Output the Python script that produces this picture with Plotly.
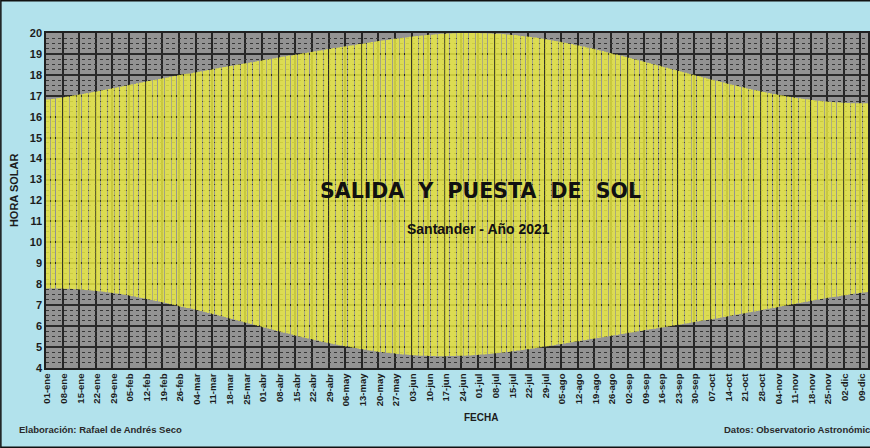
import plotly.graph_objects as go
import pandas as pd

MESES = ["ene", "feb", "mar", "abr", "may", "jun", "jul", "ago", "sep", "oct", "nov", "dic"]
# the source sheet uses a 366-day calendar (it contains 29-feb)
fechas = pd.date_range("2020-01-01", "2020-12-31", freq="D")

# Hora solar de salida del sol (h), Santander
salida = [
    7.80, 7.80, 7.80, 7.80, 7.80, 7.80, 7.80, 7.79, 7.79, 7.78, 7.78, 7.77, 7.76, 7.76, 7.75, 7.74, 7.73, 7.72, 7.71, 7.70, 7.69, 7.68, 7.66, 7.65, 7.64, 7.62, 7.61, 7.59, 7.58, 7.56, 7.55,
    7.53, 7.51, 7.49, 7.47, 7.45, 7.43, 7.41, 7.38, 7.36, 7.34, 7.32, 7.29, 7.27, 7.25, 7.22, 7.20, 7.18, 7.15, 7.13, 7.11, 7.08, 7.05, 7.02, 7.00, 6.97, 6.94, 6.91, 6.89, 6.87,
    6.86, 6.83, 6.80, 6.77, 6.75, 6.72, 6.69, 6.66, 6.63, 6.60, 6.57, 6.55, 6.52, 6.49, 6.46, 6.43, 6.40, 6.37, 6.34, 6.31, 6.28, 6.25, 6.22, 6.19, 6.16, 6.13, 6.10, 6.07, 6.04, 6.01, 5.98,
    5.95, 5.92, 5.89, 5.86, 5.83, 5.80, 5.77, 5.74, 5.71, 5.68, 5.66, 5.63, 5.60, 5.57, 5.54, 5.51, 5.49, 5.46, 5.43, 5.41, 5.38, 5.36, 5.33, 5.31, 5.28, 5.25, 5.23, 5.21, 5.18, 5.16,
    5.14, 5.11, 5.09, 5.07, 5.05, 5.03, 5.01, 4.99, 4.97, 4.95, 4.93, 4.91, 4.89, 4.87, 4.85, 4.84, 4.82, 4.80, 4.79, 4.77, 4.76, 4.74, 4.73, 4.72, 4.71, 4.70, 4.68, 4.67, 4.66, 4.65, 4.64,
    4.63, 4.62, 4.61, 4.61, 4.60, 4.59, 4.59, 4.58, 4.58, 4.57, 4.57, 4.57, 4.56, 4.56, 4.56, 4.56, 4.56, 4.57, 4.57, 4.57, 4.57, 4.58, 4.58, 4.59, 4.59, 4.60, 4.60, 4.61, 4.62, 4.62,
    4.63, 4.64, 4.65, 4.66, 4.67, 4.68, 4.69, 4.71, 4.72, 4.73, 4.74, 4.75, 4.77, 4.78, 4.80, 4.81, 4.83, 4.84, 4.86, 4.87, 4.89, 4.90, 4.92, 4.93, 4.95, 4.97, 4.99, 5.01, 5.03, 5.04, 5.06,
    5.08, 5.10, 5.12, 5.14, 5.15, 5.17, 5.19, 5.21, 5.23, 5.25, 5.27, 5.28, 5.30, 5.32, 5.34, 5.36, 5.38, 5.40, 5.41, 5.43, 5.45, 5.47, 5.49, 5.51, 5.53, 5.55, 5.57, 5.58, 5.60, 5.62, 5.64,
    5.66, 5.68, 5.69, 5.71, 5.73, 5.75, 5.77, 5.79, 5.81, 5.83, 5.85, 5.86, 5.88, 5.90, 5.92, 5.94, 5.95, 5.97, 5.99, 6.01, 6.03, 6.05, 6.06, 6.08, 6.10, 6.12, 6.14, 6.16, 6.18, 6.20,
    6.22, 6.24, 6.26, 6.28, 6.29, 6.31, 6.33, 6.35, 6.37, 6.39, 6.41, 6.43, 6.45, 6.47, 6.49, 6.52, 6.54, 6.56, 6.58, 6.60, 6.62, 6.64, 6.66, 6.68, 6.70, 6.72, 6.74, 6.77, 6.79, 6.81, 6.83,
    6.85, 6.87, 6.89, 6.91, 6.94, 6.96, 6.98, 7.00, 7.02, 7.04, 7.06, 7.09, 7.11, 7.13, 7.15, 7.17, 7.19, 7.21, 7.23, 7.25, 7.27, 7.29, 7.31, 7.33, 7.35, 7.37, 7.39, 7.40, 7.42, 7.44,
    7.46, 7.48, 7.49, 7.51, 7.53, 7.55, 7.56, 7.58, 7.59, 7.61, 7.62, 7.63, 7.65, 7.66, 7.67, 7.69, 7.70, 7.71, 7.72, 7.73, 7.74, 7.75, 7.76, 7.76, 7.77, 7.78, 7.78, 7.79, 7.79, 7.80, 7.80,
]

# Hora solar de puesta del sol (h)
puesta = [
    16.82, 16.83, 16.85, 16.86, 16.88, 16.90, 16.91, 16.93, 16.95, 16.97, 16.99, 17.01, 17.03, 17.05, 17.07, 17.09, 17.11, 17.13, 17.15, 17.17, 17.19, 17.21, 17.23, 17.26, 17.28, 17.30, 17.32, 17.34, 17.37, 17.39, 17.41,
    17.43, 17.46, 17.48, 17.50, 17.53, 17.55, 17.57, 17.60, 17.62, 17.64, 17.66, 17.69, 17.71, 17.73, 17.75, 17.77, 17.80, 17.82, 17.84, 17.86, 17.88, 17.91, 17.93, 17.95, 17.98, 18.00, 18.02, 18.04, 18.05,
    18.06, 18.08, 18.11, 18.13, 18.15, 18.17, 18.19, 18.21, 18.23, 18.25, 18.27, 18.30, 18.32, 18.34, 18.36, 18.38, 18.40, 18.42, 18.44, 18.46, 18.48, 18.50, 18.52, 18.54, 18.56, 18.58, 18.60, 18.62, 18.64, 18.66, 18.68,
    18.70, 18.72, 18.74, 18.76, 18.78, 18.80, 18.82, 18.84, 18.86, 18.88, 18.90, 18.92, 18.93, 18.95, 18.97, 18.99, 19.01, 19.03, 19.05, 19.07, 19.09, 19.11, 19.13, 19.15, 19.16, 19.18, 19.20, 19.22, 19.24, 19.26,
    19.28, 19.29, 19.31, 19.33, 19.35, 19.37, 19.39, 19.40, 19.42, 19.44, 19.46, 19.48, 19.49, 19.51, 19.53, 19.55, 19.57, 19.58, 19.60, 19.62, 19.64, 19.65, 19.67, 19.68, 19.70, 19.72, 19.73, 19.74, 19.76, 19.77, 19.79,
    19.80, 19.82, 19.83, 19.85, 19.86, 19.87, 19.88, 19.89, 19.90, 19.92, 19.92, 19.93, 19.94, 19.95, 19.96, 19.96, 19.97, 19.98, 19.98, 19.99, 19.99, 20.00, 20.00, 20.00, 20.00, 20.00, 20.00, 20.00, 20.00, 20.00,
    20.00, 19.99, 19.99, 19.99, 19.98, 19.98, 19.97, 19.97, 19.96, 19.96, 19.95, 19.94, 19.93, 19.92, 19.91, 19.90, 19.89, 19.87, 19.86, 19.85, 19.83, 19.82, 19.81, 19.79, 19.78, 19.76, 19.74, 19.72, 19.70, 19.68, 19.66,
    19.64, 19.62, 19.60, 19.58, 19.56, 19.53, 19.51, 19.49, 19.47, 19.44, 19.42, 19.40, 19.37, 19.35, 19.32, 19.30, 19.27, 19.25, 19.22, 19.19, 19.16, 19.14, 19.11, 19.08, 19.05, 19.02, 18.99, 18.97, 18.94, 18.91, 18.88,
    18.85, 18.82, 18.79, 18.76, 18.73, 18.70, 18.67, 18.64, 18.61, 18.58, 18.55, 18.52, 18.49, 18.46, 18.43, 18.40, 18.37, 18.34, 18.31, 18.28, 18.25, 18.22, 18.19, 18.16, 18.13, 18.10, 18.07, 18.04, 18.01, 17.98,
    17.95, 17.92, 17.89, 17.86, 17.83, 17.80, 17.77, 17.75, 17.72, 17.69, 17.66, 17.63, 17.60, 17.57, 17.54, 17.52, 17.49, 17.46, 17.43, 17.41, 17.38, 17.35, 17.33, 17.30, 17.28, 17.25, 17.23, 17.20, 17.18, 17.16, 17.13,
    17.11, 17.09, 17.07, 17.05, 17.03, 17.01, 16.99, 16.97, 16.95, 16.93, 16.91, 16.89, 16.88, 16.86, 16.85, 16.83, 16.82, 16.80, 16.79, 16.77, 16.76, 16.75, 16.74, 16.73, 16.72, 16.71, 16.70, 16.69, 16.69, 16.68,
    16.67, 16.67, 16.66, 16.66, 16.65, 16.65, 16.65, 16.65, 16.65, 16.65, 16.65, 16.65, 16.65, 16.66, 16.66, 16.66, 16.66, 16.67, 16.68, 16.68, 16.69, 16.70, 16.71, 16.72, 16.73, 16.74, 16.74, 16.75, 16.77, 16.78, 16.80,
]

n = min(len(fechas), len(salida), len(puesta))
dias = list(range(n))
duracion = [puesta[i] - salida[i] for i in range(n)]

# Weekly tick labels
tick_idx = list(range(0, n, 7))
tick_txt = [f"{fechas[i].day:02d}-{MESES[fechas[i].month - 1]}" for i in tick_idx]
grid_idx = [i - 0.5 for i in tick_idx]

W, H = 870, 448
ML, MT, MB, MR = 46, 33, 80, 0
PW, PH = W - ML - MR, H - MT - MB
px_per_day = 2.38
x_lo = -0.5
x_hi = x_lo + PW / px_per_day


def fx(px):
    return (px - ML) / PW


def fy(py):
    return (H - MB - py) / PH


FONT = "Liberation Sans, Arial, sans-serif"
TXT = "#1c1c1c"

fig = go.Figure()
fig.add_trace(go.Bar(
    x=dias, y=duracion, base=salida[:n],
    marker=dict(color="#ecec44", line=dict(color="#6a6a30", width=0)),
    opacity=0.82,
    hoverinfo="skip",
))

fig.update_layout(
    width=W, height=H,
    margin=dict(l=ML, r=MR, t=MT, b=MB, pad=0),
    paper_bgcolor="#b2e2ec",
    plot_bgcolor="#939393",
    bargap=0.42,
    showlegend=False,
    font=dict(family=FONT, color=TXT),
)

fig.update_xaxes(
    range=[x_lo, x_hi],
    tickmode="array", tickvals=tick_idx, ticktext=tick_txt,
    tickangle=-90,
    tickfont=dict(family=FONT, size=9.5, color=TXT, weight="bold"),
    showgrid=False, zeroline=False,
    ticks="", ticklen=0,
    showline=True, linecolor="#202020", linewidth=1.5, mirror=True,
    minor=dict(tickmode="array", tickvals=grid_idx, showgrid=True,
               gridcolor="#262626", gridwidth=1.5, ticks=""),
)

fig.update_yaxes(
    range=[4, 20],
    tickmode="linear", tick0=4, dtick=1,
    tickfont=dict(family=FONT, size=11, color=TXT, weight="bold"),
    showgrid=True, gridcolor="#2a2a2a", gridwidth=1.5,
    zeroline=False, ticks="",
    showline=True, linecolor="#202020", linewidth=1.5, mirror=True,
    minor=dict(tickmode="linear", tick0=4, dtick=0.25, showgrid=True,
               gridcolor="#383838", gridwidth=1, griddash="dot", ticks=""),
)

ann = [
    dict(text="SALIDA\u00a0\u00a0Y\u00a0\u00a0PUESTA\u00a0\u00a0DE\u00a0\u00a0SOL",
         x=fx(482), y=fy(191.5), font=dict(family="DejaVu Sans, Arial", size=20.5, color="#111111", weight="bold")),
    dict(text="Santander - Año 2021",
         x=fx(480), y=fy(228.5), font=dict(family=FONT, size=14, color="#111111", weight="bold")),
    dict(text="HORA SOLAR", textangle=-90,
         x=fx(14), y=fy(190), font=dict(family=FONT, size=11, color=TXT, weight="bold")),
    dict(text="FECHA",
         x=fx(482), y=fy(417), font=dict(family=FONT, size=10, color=TXT, weight="bold")),
    dict(text="Elaboración: Rafael de Andrés Seco", xanchor="left",
         x=fx(17), y=fy(429), font=dict(family=FONT, size=9.5, color="#2a2a2a", weight="bold")),
    dict(text="Datos: Observatorio Astronómico Nacional", xanchor="left",
         x=fx(724), y=fy(429), font=dict(family=FONT, size=9.5, color="#2a2a2a", weight="bold")),
]
for a in ann:
    a.setdefault("xanchor", "center")
    a.update(xref="paper", yref="paper", yanchor="middle", showarrow=False)
fig.update_layout(annotations=ann)

# outer frame of the picture
fig.add_shape(type="rect", xref="paper", yref="paper",
              x0=fx(0.75), x1=fx(875), y0=fy(447.25), y1=fy(0.75),
              line=dict(color="#111111", width=1.5), fillcolor="rgba(0,0,0,0)", layer="above")

fig.write_html("out.html", config={"displayModeBar": False},
               post_script="document.body.style.margin='0';document.body.style.overflow='hidden';")
